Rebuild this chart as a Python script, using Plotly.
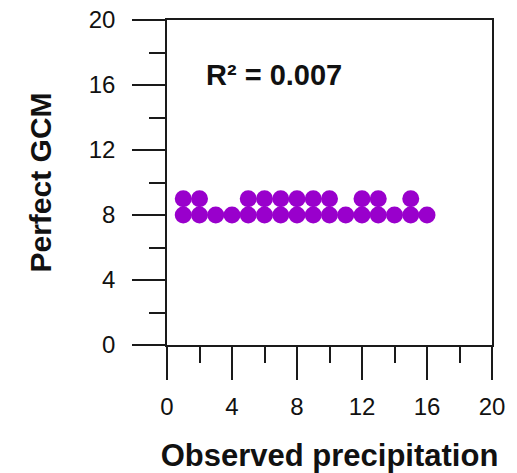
import plotly.graph_objects as go

# Observed precipitation vs. "perfect GCM" output
obs = [1, 2, 3, 4, 5, 6, 7, 8, 9, 10, 11, 12, 13, 14, 15, 16,
       1, 2, 5, 6, 7, 8, 9, 10, 12, 13, 15]
gcm = [8] * 16 + [9] * 11
r2_text = "R² = 0.007"

tick_vals = [0, 4, 8, 12, 16, 20]
font_family = "Arial, Liberation Sans, sans-serif"
line_col = "#1a1a1a"

fig = go.Figure(
    go.Scatter(
        x=obs, y=gcm, mode="markers",
        marker=dict(size=17, color="#9900cc", line=dict(width=0)),
        showlegend=False, cliponaxis=False,
    )
)

axis_common = dict(
    range=[0, 20], tickvals=tick_vals, showgrid=False, zeroline=False,
    showline=True, linecolor=line_col, linewidth=1.5, mirror=True,
    ticks="outside", ticklen=33, tickwidth=1.5, tickcolor=line_col,
    tickfont=dict(family=font_family, size=24, color="#111"),
    minor=dict(tickvals=[2, 6, 10, 14, 18], ticks="outside", ticklen=16,
               tickwidth=1.5, tickcolor=line_col),
    automargin=False,
)

fig.update_xaxes(
    **axis_common, ticklabelstandoff=6,
    title=dict(text="<b>Observed precipitation</b>", standoff=28,
               font=dict(family=font_family, size=31, color="#111")),
)
fig.update_yaxes(
    **axis_common, ticklabelstandoff=12,
    title=dict(text="<b>Perfect GCM</b>", standoff=28,
               font=dict(family=font_family, size=30, color="#111")),
)

fig.add_annotation(
    x=2.3, y=16.6, xref="x", yref="y", text=f"<b>{r2_text}</b>",
    showarrow=False, xanchor="left", yanchor="middle",
    font=dict(family=font_family, size=29, color="#111"),
)

fig.update_layout(
    width=517, height=473,
    margin=dict(l=167, r=25, t=20, b=128),
    plot_bgcolor="white", paper_bgcolor="white",
)

fig.write_html("out.html")
